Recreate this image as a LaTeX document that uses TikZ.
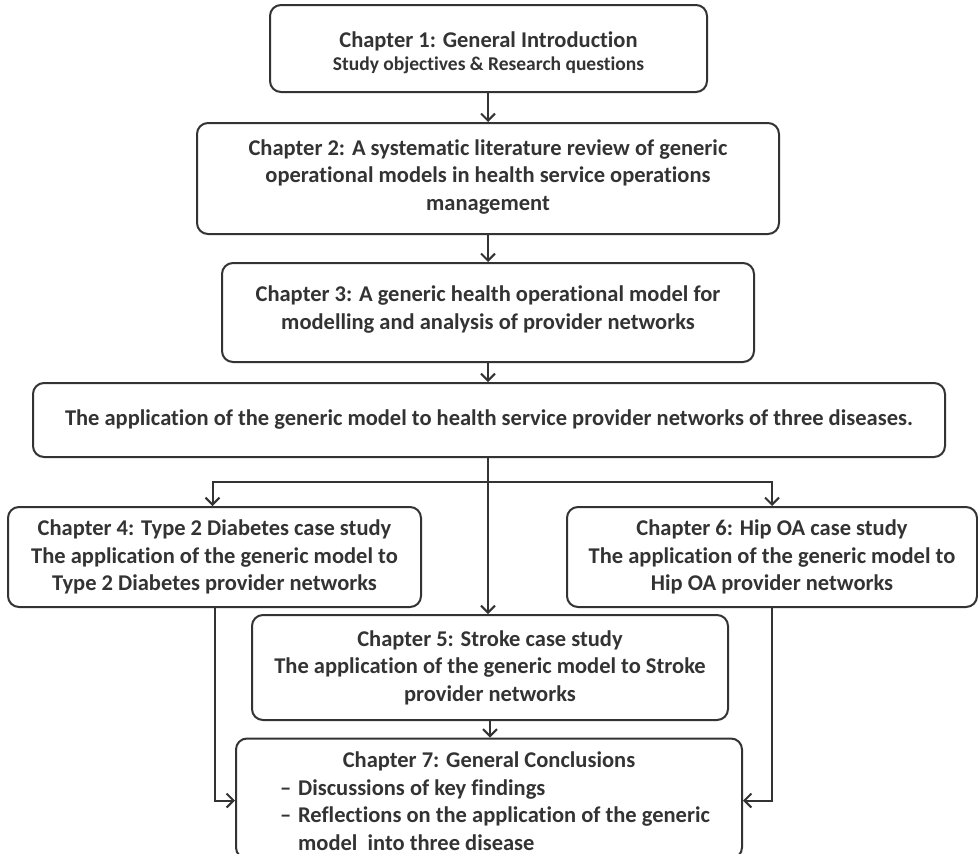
\documentclass[tikz,border=0pt]{standalone}
\usepackage{fontspec}
\setmainfont{Carlito}[Ligatures=NoCommon]
\usetikzlibrary{arrows.meta}
\definecolor{ink}{HTML}{333333}
\begin{document}
\begin{tikzpicture}[x=1pt,y=-1pt,
  chap/.style={draw=ink, line width=2pt, rounded corners=11pt, fill=white,
    text=ink, font=\fontsize{22.5}{27.5}\selectfont\bfseries, align=center,
    inner sep=0pt, anchor=center},
  link/.style={draw=ink, line width=2pt, -{Straight Barb[length=7pt,width=14pt,line width=2pt]}},
  plain/.style={draw=ink, line width=2pt}]
\useasboundingbox (0,0) rectangle (978,854);

\node[chap, minimum width=437pt, minimum height=87pt] (c1) at (488.5,48.5)
  {\begin{tabular}{@{}c@{}}\noalign{\vskip 9pt}
   Chapter 1: General Introduction\\[-4.5pt]
   {\fontsize{19.5}{22}\selectfont Study objectives \& Research questions}
   \end{tabular}};
\node[chap, minimum width=582pt, minimum height=111pt] (c2) at (488,178.5)
  {Chapter 2: A systematic literature review of generic\\operational models in health service operations\\management\\[-20.5pt]\mbox{}};
\node[chap, minimum width=532pt, minimum height=99pt] (c3) at (488,312.5)
  {Chapter 3: A generic health operational model for\\modelling and analysis of provider networks\\[-18pt]\mbox{}};
\node[chap, minimum width=912pt, minimum height=74pt] (app) at (489,420)
  {The application of the generic model to health service provider networks of three diseases.};
\node[chap, minimum width=413pt, minimum height=100pt] (c4) at (214.5,557)
  {Chapter 4: Type 2 Diabetes case study\\The application of the generic model to\\Type 2 Diabetes provider networks};
\node[chap, minimum width=410pt, minimum height=100pt] (c6) at (772,557)
  {Chapter 6: Hip OA case study\\The application of the generic model to\\Hip OA provider networks};
\node[chap, minimum width=476pt, minimum height=105pt] (c5) at (490,667.5)
  {Chapter 5: Stroke case study\\The application of the generic model to Stroke\\provider networks};
\node[chap, minimum width=506pt, minimum height=107pt] (c7) at (489,798.5)
  {\begin{tabular}{@{\hspace{12pt}}l@{}}\noalign{\vskip 10pt}
   \multicolumn{1}{@{}c@{}}{Chapter 7: General Conclusions}\\
   \makebox[18pt][l]{–}Discussions of key findings\\
   \makebox[18pt][l]{–}Reflections on the application of the generic\\
   \hspace{18pt}model\ \ into three disease
   \end{tabular}};

\coordinate (hub) at (488,482);

\draw[link] (c1.south -| hub) -- (c2.north -| hub);
\draw[link] (c2.south -| hub) -- (c3.north -| hub);
\draw[link] (c3.south -| hub) -- (app.north -| hub);
\draw[plain] (app.south -| hub) -- (hub);
\draw[link] (hub) -| ([xshift=-2pt]c4.north);
\draw[link] (hub) -| (c6.north);
\draw[link] (hub) -- (c5.north -| hub);
\draw[link] (c5.south) -- (c5.south |- c7.north);
\draw[link] (c4.south) |- ([yshift=-2pt]c7.west);
\draw[link] (c6.south) |- ([yshift=-2pt]c7.east);
\end{tikzpicture}
\end{document}
